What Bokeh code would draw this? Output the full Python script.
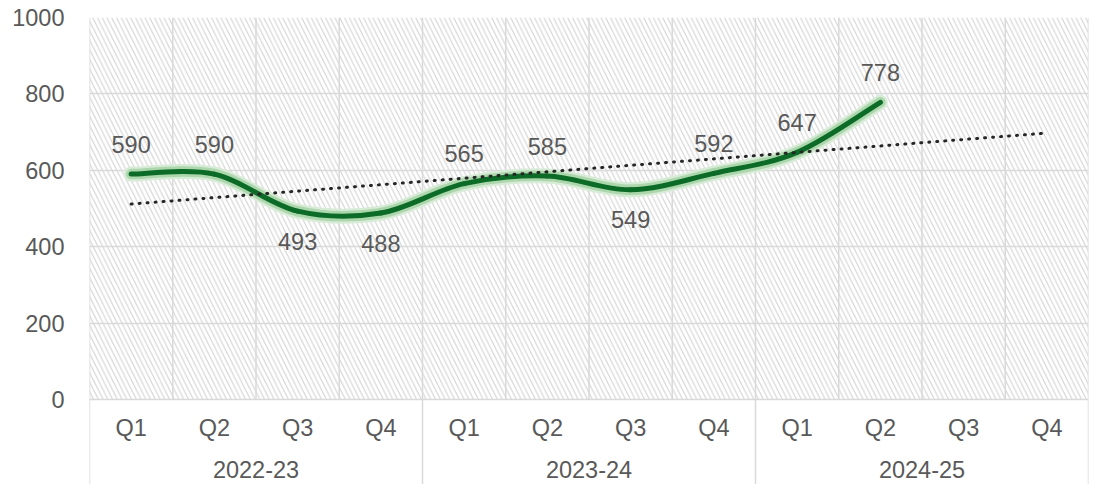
import numpy as np
from bokeh.plotting import figure
from bokeh.models import FactorRange, FixedTicker, Range1d, ColumnDataSource
from bokeh.core.properties import value
from bokeh.embed import file_html
from bokeh.resources import INLINE

# ---- data ----
years = ["2022-23", "2023-24", "2024-25"]
quarters = ["Q1", "Q2", "Q3", "Q4"]
values = [590, 590, 493, 488, 565, 585, 549, 592, 647, 778]
y_ticks = [0, 200, 400, 600, 800, 1000]

factors = [(y, q) for y in years for q in quarters]
n_cat = len(factors)
n_val = len(values)

# ---- layout ----
W, H = 1092, 484
ML, MR, MT = 89, 4, 17
plot_px = 382.0
frame_h = H - MT
ymax = 1000.0
ymin = -ymax * (frame_h - plot_px) / plot_px

FONT = value("Liberation Sans")
TXT = "#595959"
GRID = "#d9d9d9"
FS = "23.5px"

xr = FactorRange(*factors, factor_padding=0, group_padding=0, range_padding=0)
p = figure(width=W, height=H, x_range=xr, y_range=Range1d(ymin, ymax),
           output_backend="svg", toolbar_location=None, x_axis_location=None,
           min_border_left=ML, min_border_right=MR, min_border_top=MT,
           min_border_bottom=0)
p.outline_line_color = None
p.background_fill_color = "white"
p.border_fill_color = "white"
p.xgrid.visible = False

ax = p.yaxis[0]
ax.ticker = FixedTicker(ticks=y_ticks)
ax.axis_line_color = None
ax.major_tick_line_color = None
ax.minor_tick_line_color = None
ax.major_label_standoff = 19
ax.major_label_text_font = "Liberation Sans"
ax.major_label_text_font_size = FS
ax.major_label_text_color = TXT

p.ygrid.ticker = FixedTicker(ticks=y_ticks)
p.ygrid.grid_line_color = GRID
p.ygrid.grid_line_width = 1.5

# hatched plot area
p.quad(left=[0], right=[n_cat], bottom=[0], top=[ymax], fill_color="white",
       hatch_pattern="left_diagonal_line", hatch_color="#d6d6d6", hatch_scale=9.5,
       hatch_weight=1.2, line_color=None, level="image")

# vertical category gridlines (plot area) and group separators (axis area)
bounds = list(range(n_cat + 1))
p.segment(x0=bounds, y0=[0] * len(bounds), x1=bounds, y1=[ymax] * len(bounds),
          line_color=GRID, line_width=1.5, level="underlay")
group_bounds = [i * len(quarters) for i in range(len(years) + 1)]
p.segment(x0=group_bounds, y0=[ymin] * len(group_bounds), x1=group_bounds,
          y1=[0] * len(group_bounds), line_color=GRID, line_width=1.5)

# smoothed line (Catmull-Rom style bezier like Excel's smoothed line)
xs = np.arange(n_val) + 0.5
ys = np.array(values, dtype=float)
seg = dict(x0=[], y0=[], x1=[], y1=[], cx0=[], cy0=[], cx1=[], cy1=[])
for i in range(n_val - 1):
    im, ip = max(i - 1, 0), min(i + 2, n_val - 1)
    seg["x0"].append(xs[i]); seg["y0"].append(ys[i])
    seg["x1"].append(xs[i + 1]); seg["y1"].append(ys[i + 1])
    seg["cx0"].append(xs[i] + (xs[i + 1] - xs[im]) / 6)
    seg["cy0"].append(ys[i] + (ys[i + 1] - ys[im]) / 6)
    seg["cx1"].append(xs[i + 1] - (xs[ip] - xs[i]) / 6)
    seg["cy1"].append(ys[i + 1] - (ys[ip] - ys[i]) / 6)
src = ColumnDataSource(seg)
for col, w in [("#d7ebd7", 15), ("#acd6ac", 10.5), ("#0b6b27", 5)]:
    p.bezier(x0="x0", y0="y0", x1="x1", y1="y1", cx0="cx0", cy0="cy0",
             cx1="cx1", cy1="cy1", source=src, line_color=col, line_width=w,
             line_cap="round")

# linear trendline (fitted on the data, extended to all quarters)
k, b = np.polyfit(np.arange(1, n_val + 1), ys, 1)
p.line(x=[0.5, n_cat - 0.5], y=[k * 1 + b, k * n_cat + b], line_color="#262626",
       line_width=3, line_dash="1 7", line_cap="round")

# data labels
offs = [-30 if (i == 0 or values[i] >= values[i - 1]) else 30 for i in range(n_val)]
p.text(x=factors[:n_val], y=values, text=[str(v) for v in values], y_offset=offs,
       text_align="center", text_baseline="middle", text_font=FONT,
       text_font_size=FS, text_color=TXT)

# category axis labels
p.text(x=factors, y=[0] * n_cat, text=[q for _, q in factors], y_offset=28,
       text_align="center", text_baseline="middle", text_font=FONT,
       text_font_size=FS, text_color=TXT)
p.text(x=years, y=[0] * len(years), text=years, y_offset=70,
       text_align="center", text_baseline="middle", text_font=FONT,
       text_font_size=FS, text_color=TXT)

open("out.html", "w").write(file_html(p, INLINE))
